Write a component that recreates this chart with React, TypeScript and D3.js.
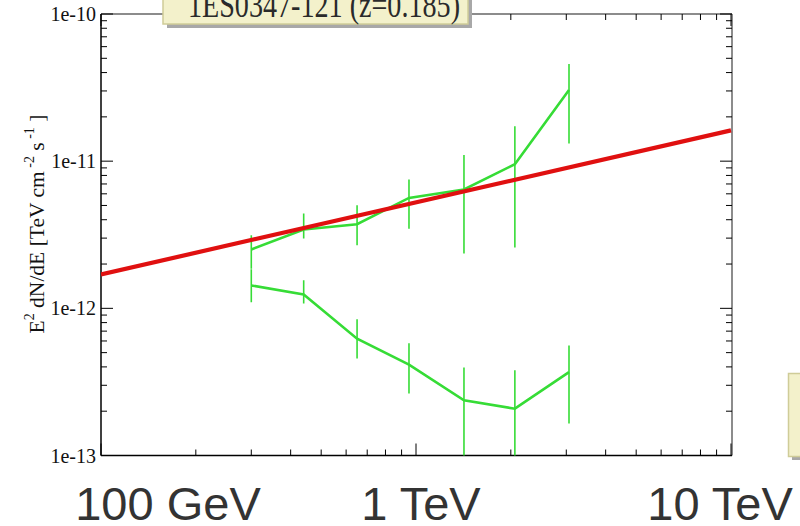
import React from "react";
import * as d3 from "d3";

// Energies (TeV) of the spectral points
const energies = [0.3, 0.44, 0.65, 0.95, 1.42, 2.06, 3.06];
// Upper (deabsorbed) spectrum
const upperFlux = [2.51e-12, 3.43e-12, 3.73e-12, 5.63e-12, 6.42e-12, 9.54e-12, 3.04e-11];
const upperLo = [1.86e-12, 2.98e-12, 2.68e-12, 3.48e-12, 2.36e-12, 2.59e-12, 1.32e-11];
const upperHi = [3.14e-12, 4.41e-12, 5.02e-12, 7.51e-12, 1.1e-11, 1.73e-11, 4.57e-11];
// Lower (observed) spectrum
const lowerFlux = [1.43e-12, 1.24e-12, 6.22e-13, 4.14e-13, 2.37e-13, 2.08e-13, 3.69e-13];
const lowerLo = [1.1e-12, 1.08e-12, 4.57e-13, 2.64e-13, 8e-14, 8e-14, 1.65e-13];
const lowerHi = [1.84e-12, 1.55e-12, 8.42e-13, 5.78e-13, 3.97e-13, 3.79e-13, 5.6e-13];
// Power-law fit endpoints
const fitEnergies = [0.1, 10];
const fitFlux = [1.7e-12, 1.62e-11];

const yMajorTicks = [1e-13, 1e-12, 1e-11, 1e-10];
const yTickLabels = ["1e-13", "1e-12", "1e-11", "1e-10"];
const xMajorTicks = [0.1, 1, 10];
const energyLabels = ["100 GeV", "1 TeV", "10 TeV"];
const titleText = "1ES0347-121 (z=0.185)";

export default function App() {
  const L = 101, R = 732, T = 14, B = 455.5;
  const x = d3.scaleLog().domain([0.1, 10]).range([L, 731]);
  const y = d3.scaleLog().domain([1e-13, 1e-10]).range([B, T]);

  const yMinor: number[] = [];
  for (let e = -13; e < -10; e++) for (let k = 2; k <= 9; k++) yMinor.push(k * Math.pow(10, e));
  const xMinor: number[] = [];
  for (let e = -1; e < 1; e++) for (let k = 2; k <= 9; k++) xMinor.push(k * Math.pow(10, e));

  const line = d3
    .line<number>()
    .x((_, i) => x(energies[i]))
    .y((d) => y(d));

  const fitLine = d3
    .line<number>()
    .x((_, i) => x(fitEnergies[i]))
    .y((d) => y(d));

  const green = "#36dc36";
  const labelX = [168, 421, 720];

  return (
    <svg
      width={800}
      height={526}
      style={{ position: "absolute", left: 0, top: 0, background: "#fff" }}
      fontFamily="'Liberation Serif', 'DejaVu Serif', serif"
    >
      <defs>
        <clipPath id="plot">
          <rect x={L} y={T} width={R - L} height={B - T} />
        </clipPath>
      </defs>

      {/* frame */}
      <line x1={L} x2={R} y1={T} y2={T} stroke="#666" strokeWidth={1.5} />
      <line x1={R} x2={R} y1={T} y2={B} stroke="#666" strokeWidth={1.5} />
      <line x1={L} x2={L} y1={T} y2={B} stroke="#000" strokeWidth={1.5} />
      <line x1={L} x2={R} y1={B} y2={B} stroke="#000" strokeWidth={1.5} />

      {/* y ticks left & right */}
      {yMajorTicks.map((t) => (
        <g key={"ym" + t}>
          <line x1={L} x2={L + 12} y1={y(t)} y2={y(t)} stroke="#000" strokeWidth={1} />
          <line x1={R} x2={R - 12} y1={y(t)} y2={y(t)} stroke="#000" strokeWidth={1} />
        </g>
      ))}
      {yMinor.map((t) => (
        <g key={"yn" + t}>
          <line x1={L} x2={L + 6} y1={y(t)} y2={y(t)} stroke="#000" strokeWidth={1} />
          <line x1={R} x2={R - 6} y1={y(t)} y2={y(t)} stroke="#000" strokeWidth={1} />
        </g>
      ))}
      {/* x ticks bottom & top */}
      {xMajorTicks.map((t) => (
        <g key={"xm" + t}>
          <line x1={x(t)} x2={x(t)} y1={B} y2={B - 12} stroke="#000" strokeWidth={1} />
          <line x1={x(t)} x2={x(t)} y1={T} y2={T + 12} stroke="#000" strokeWidth={1} />
        </g>
      ))}
      {xMinor.map((t) => (
        <g key={"xn" + t}>
          <line x1={x(t)} x2={x(t)} y1={B} y2={B - 6} stroke="#000" strokeWidth={1} />
          <line x1={x(t)} x2={x(t)} y1={T} y2={T + 6} stroke="#000" strokeWidth={1} />
        </g>
      ))}

      {/* y tick labels */}
      {yMajorTicks.map((t, i) => (
        <text key={"yl" + t} x={96} y={y(t) + 7} textAnchor="end" fontSize={20} fill="#111">
          {yTickLabels[i]}
        </text>
      ))}

      {/* y axis title */}
      <text
        transform="translate(44,224) rotate(-90)"
        textAnchor="middle"
        fontSize={21.5}
        fill="#111"
      >
        E<tspan dy={-10} fontSize={14}>2</tspan>
        <tspan dy={10}> dN/dE [TeV cm</tspan>
        <tspan dy={-10} fontSize={14}> -2</tspan>
        <tspan dy={10}> s</tspan>
        <tspan dy={-10} fontSize={14}> -1</tspan>
        <tspan dy={10}> ]</tspan>
      </text>

      <g clipPath="url(#plot)">
        {/* error bars */}
        {energies.map((e, i) => (
          <g key={"eb" + i}>
            <line x1={x(e)} x2={x(e)} y1={y(upperLo[i])} y2={y(upperHi[i])} stroke={green} strokeWidth={1.6} />
            <line x1={x(e)} x2={x(e)} y1={y(lowerLo[i])} y2={y(lowerHi[i])} stroke={green} strokeWidth={1.6} />
          </g>
        ))}
        <path d={line(upperFlux) || ""} fill="none" stroke={green} strokeWidth={2.6} />
        <path d={line(lowerFlux) || ""} fill="none" stroke={green} strokeWidth={2.6} />
        <path d={fitLine(fitFlux) || ""} fill="none" stroke="#e01010" strokeWidth={4.2} />
      </g>

      {/* title box */}
      <rect x={167} y={-10} width={305} height={38} fill="#a8a8a8" />
      <rect x={163} y={-12} width={305} height={36} fill="#f3f1cb" stroke="#cfcc98" strokeWidth={1.5} />
      <text x={188} y={17} fontSize={36} fill="#2a2a2a" textLength={272} lengthAdjust="spacingAndGlyphs">
        {titleText}
      </text>

      {/* partial box bottom right */}
      <rect x={792} y={377} width={20} height={83} fill="#a8a8a8" />
      <rect x={788.5} y={373.5} width={20} height={83} fill="#f3f1cb" stroke="#cfcc98" strokeWidth={1.5} />

      {/* big energy labels */}
      {energyLabels.map((s, i) => (
        <text
          key={s}
          x={labelX[i]}
          y={520}
          textAnchor="middle"
          fontSize={47}
          fontFamily="'Liberation Sans', Arial, sans-serif"
          fill="#333"
        >
          {s}
        </text>
      ))}
    </svg>
  );
}
